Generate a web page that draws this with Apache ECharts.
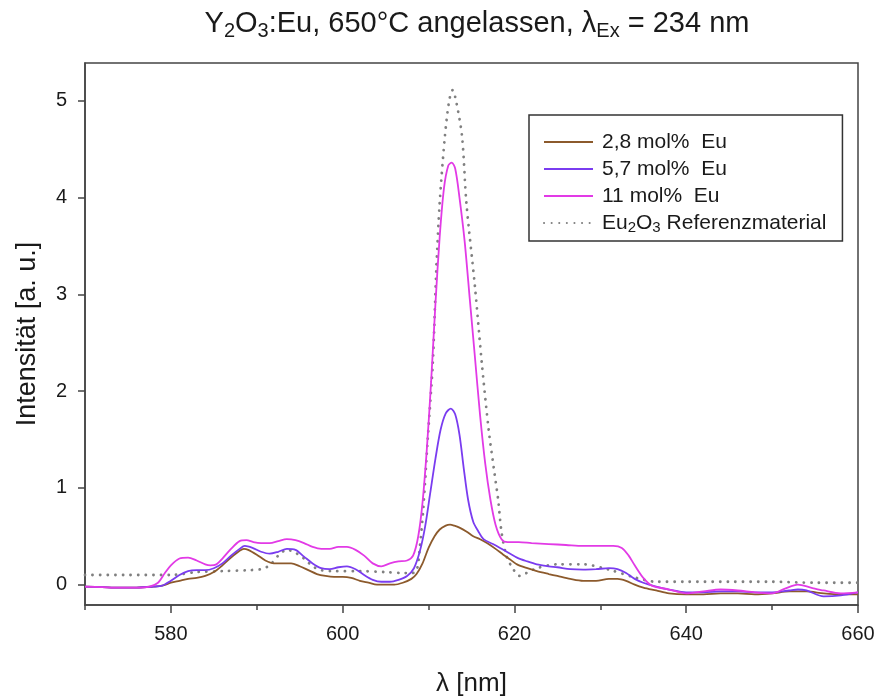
<!DOCTYPE html>
<html>
<head>
<meta charset="utf-8">
<script src="https://cdn.jsdelivr.net/npm/echarts@6/dist/echarts.min.js"></script>
<style>html,body{margin:0;padding:0;background:#fff;}#c{width:879px;height:699px;}</style>
</head>
<body>
<div id="c"></div>
<script>
// ---- data ----
const seriesNames = ['2,8 mol%  Eu', '5,7 mol%  Eu', '11 mol%  Eu', 'Eu{sub|2}O{sub|3} Referenzmaterial'];
const xTickLabels = [580, 600, 620, 640, 660];
const yTickLabels = [0, 1, 2, 3, 4, 5];

const wl28 = [570, 572, 574, 576, 578, 579, 580, 581, 582, 583, 584, 585, 586, 587, 588, 588.5, 589, 590, 591, 592, 593, 594, 595, 596, 597, 598, 599, 600, 601, 602, 603, 604, 605, 606, 607, 608, 608.6, 609.3, 610, 610.7, 611.3, 612, 612.5, 613, 613.6, 614.4, 615.2, 616, 616.8, 617.8, 618.7, 619.5, 620.3, 621.5, 622.6, 624, 625, 626.5, 628, 629.5, 631, 632, 633, 634, 635, 636.5, 638, 640, 642, 644, 646, 648, 650, 652, 654, 656, 658, 660];
const int28 = [-0.02, -0.025, -0.03, -0.03, -0.02, -0.01, 0.02, 0.04, 0.06, 0.07, 0.09, 0.13, 0.2, 0.28, 0.35, 0.37, 0.36, 0.31, 0.25, 0.22, 0.22, 0.22, 0.19, 0.15, 0.11, 0.09, 0.08, 0.08, 0.07, 0.04, 0.02, 0.0, 0.0, 0.0, 0.02, 0.06, 0.11, 0.22, 0.38, 0.5, 0.57, 0.61, 0.62, 0.61, 0.59, 0.55, 0.5, 0.47, 0.43, 0.37, 0.31, 0.26, 0.21, 0.17, 0.14, 0.11, 0.09, 0.06, 0.04, 0.04, 0.06, 0.06, 0.04, 0.0, -0.03, -0.06, -0.09, -0.1, -0.1, -0.09, -0.09, -0.1, -0.09, -0.07, -0.07, -0.09, -0.1, -0.1];

const wl57 = [570, 572, 574, 576, 578, 579, 580, 581, 582, 583, 584, 585, 586, 587, 588, 588.6, 589.5, 590.5, 591.5, 592.5, 593.5, 594.5, 595.5, 596.5, 597.5, 598.5, 599.5, 600.5, 601.5, 602.5, 603.5, 604.5, 605.5, 606.5, 607.5, 608.3, 609, 609.6, 610.2, 610.8, 611.4, 612, 612.6, 613.1, 613.6, 614.1, 614.6, 615.2, 615.8, 616.4, 617.5, 618.7, 620.3, 621.5, 622.6, 624, 625, 626.5, 628, 629.5, 631, 632, 633, 634, 635, 636.5, 638, 640, 642, 644, 646, 648, 650, 652, 653, 654, 656, 658, 660];
const int57 = [-0.02, -0.025, -0.03, -0.03, -0.02, -0.01, 0.04, 0.1, 0.14, 0.15, 0.15, 0.17, 0.22, 0.3, 0.37, 0.40, 0.38, 0.34, 0.32, 0.34, 0.37, 0.36, 0.29, 0.22, 0.17, 0.16, 0.18, 0.19, 0.16, 0.1, 0.05, 0.03, 0.03, 0.05, 0.09, 0.17, 0.35, 0.6, 0.95, 1.3, 1.6, 1.77, 1.82, 1.76, 1.55, 1.2, 0.88, 0.65, 0.55, 0.47, 0.42, 0.36, 0.28, 0.24, 0.21, 0.19, 0.18, 0.16, 0.155, 0.16, 0.17, 0.16, 0.12, 0.06, 0.02, -0.02, -0.05, -0.08, -0.08, -0.07, -0.07, -0.08, -0.08, -0.06, -0.05, -0.06, -0.12, -0.11, -0.08];

const wl11 = [570, 572, 574, 576, 577.5, 578.5, 579.3, 580, 581, 582, 583, 584, 584.6, 585.3, 586, 587, 588, 588.8, 589.6, 590.5, 591.5, 592.5, 593.5, 594.5, 595.5, 596.5, 597.5, 598.5, 599.5, 600.5, 601.5, 602.5, 603.5, 604.5, 605.5, 606.5, 607.5, 608.2, 608.8, 609.3, 609.8, 610.3, 610.8, 611.3, 611.8, 612.3, 612.7, 613.1, 613.6, 614.2, 614.8, 615.4, 616, 616.6, 617.2, 617.8, 618.5, 619.2, 620.5, 622, 624, 626, 628, 630, 631.5, 632.5, 633.3, 634, 635, 636, 638, 640, 642, 644, 646, 648, 650, 651.5, 653, 654.5, 656, 658, 660];
const int11 = [-0.02, -0.025, -0.03, -0.03, -0.02, 0.02, 0.12, 0.2, 0.27, 0.28, 0.25, 0.21, 0.2, 0.21, 0.27, 0.37, 0.45, 0.46, 0.44, 0.43, 0.43, 0.45, 0.47, 0.46, 0.43, 0.39, 0.37, 0.37, 0.39, 0.39, 0.36, 0.3, 0.22, 0.19, 0.22, 0.24, 0.25, 0.3, 0.5, 0.85, 1.4, 2.1, 2.9, 3.6, 4.1, 4.33, 4.36, 4.3, 4.0, 3.55, 2.95, 2.35, 1.75, 1.25, 0.88, 0.62, 0.47, 0.44, 0.44, 0.43, 0.42, 0.41, 0.4, 0.4, 0.4, 0.38, 0.3, 0.2, 0.07, -0.01, -0.05, -0.09, -0.07, -0.05, -0.06, -0.08, -0.09, -0.04, 0.0, -0.03, -0.06, -0.09, -0.08];

const wlRef = [570, 575, 580, 583, 586, 589, 590.5, 591.5, 592.5, 593.5, 594.5, 595.5, 596.5, 597.5, 599, 602, 605, 607, 608, 608.6, 609.0, 609.4, 609.9, 610.5, 610.9, 611.3, 611.9, 612.4, 612.8, 613.2, 613.9, 614.4, 615.4, 616.2, 617, 617.6, 618.1, 618.5, 619.1, 619.9, 620.6, 621.4, 622.6, 625, 628, 631, 634.2, 636.5, 640, 645, 650, 655, 660];
const intRef = [0.1, 0.1, 0.1, 0.13, 0.14, 0.15, 0.16, 0.2, 0.3, 0.36, 0.33, 0.27, 0.19, 0.15, 0.14, 0.14, 0.13, 0.12, 0.12, 0.14, 0.4, 0.8, 1.5, 2.3, 3.25, 3.95, 4.63, 5.0, 5.11, 5.0, 4.63, 3.95, 3.08, 2.29, 1.6, 1.2, 0.88, 0.54, 0.29, 0.155, 0.09, 0.12, 0.17, 0.21, 0.21, 0.155, 0.07, 0.03, 0.03, 0.03, 0.03, 0.02, 0.02];

const colors = ['#8c5a2c', '#7a3cf0', '#e23ae6', '#808080'];

// ---- chart ----
const pairs = (xs, ys) => xs.map((x, i) => [x, ys[i]]);
const chart = echarts.init(document.getElementById('c'), null, {renderer: 'canvas'});
const FONT = '"Liberation Sans", Arial, sans-serif';
const axisColor = '#444';
const textColor = '#1a1a1a';

function lineSeries(name, xs, ys, color, dotted) {
  return {
    name: name, type: 'line', xAxisIndex: 0, yAxisIndex: 0,
    data: pairs(xs, ys), showSymbol: false, symbol: 'none',
    smooth: 0.3,
    lineStyle: dotted ? {color: color, width: 2.8, type: [0.1, 7.5], cap: 'round'} : {color: color, width: 1.8},
    itemStyle: {color: color},
    z: dotted ? 1 : 2
  };
}

chart.setOption({
  backgroundColor: '#fff',
  animation: false,
  title: {
    text: 'Y{sub|2}O{sub|3}:Eu, 650°C angelassen, λ{sub|Ex} = 234 nm',
    left: 472, top: 2, textAlign: 'center',
    textStyle: {
      fontFamily: FONT, fontSize: 29, fontWeight: 'normal', color: textColor, lineHeight: 34,
      rich: {sub: {fontFamily: FONT, fontSize: 20, color: textColor, lineHeight: 20, verticalAlign: 'bottom'}}
    }
  },
  legend: {
    orient: 'vertical', left: 529, top: 115,
    data: seriesNames,
    borderColor: '#333', borderWidth: 1.5, borderRadius: 0,
    padding: [15, 16, 6, 14],
    itemWidth: 49, itemHeight: 14, itemGap: 3,
    itemStyle: {opacity: 0},
    textStyle: {
      fontFamily: FONT, fontSize: 21, color: textColor, padding: [0, 0, 0, 4], lineHeight: 24,
      rich: {sub: {fontFamily: FONT, fontSize: 15, color: textColor, lineHeight: 15, verticalAlign: 'bottom'}}
    }
  },
  grid: {left: 85, right: 21, top: 63, bottom: 94, show: true, borderColor: axisColor, borderWidth: 1.5,
         containLabel: false, outerBoundsMode: 'none'},
  xAxis: [{
    type: 'value', min: 570, max: 660, interval: 10,
    name: 'λ [nm]', nameLocation: 'middle', nameGap: 66,
    nameTextStyle: {fontFamily: FONT, fontSize: 26, color: textColor},
    axisLine: {show: true, onZero: false, lineStyle: {color: axisColor, width: 1.5}},
    axisTick: {show: true, length: 5, lineStyle: {color: axisColor, width: 1.5}},
    axisLabel: {
      fontFamily: FONT, fontSize: 20, color: textColor, margin: 19,
      customValues: xTickLabels
    },
    splitLine: {show: false}
  }, {
    type: 'value', min: 570, max: 660, interval: 10, position: 'bottom', gridIndex: 0,
    axisLine: {show: false, onZero: false},
    axisTick: {show: true, length: 8, customValues: xTickLabels, lineStyle: {color: axisColor, width: 1.5}},
    axisLabel: {show: false},
    splitLine: {show: false}
  }],
  yAxis: {
    type: 'value', min: -0.21, max: 5.39,
    name: 'Intensität [a. u.]', nameLocation: 'middle', nameGap: 44,
    nameTextStyle: {fontFamily: FONT, fontSize: 27, color: textColor},
    axisLine: {show: true, onZero: false, lineStyle: {color: axisColor, width: 1.5}},
    axisTick: {show: true, length: 7, customValues: yTickLabels, lineStyle: {color: axisColor, width: 1.5}},
    axisLabel: {fontFamily: FONT, fontSize: 20, color: textColor, margin: 18, customValues: yTickLabels},
    splitLine: {show: false}
  },
  series: [
    lineSeries(seriesNames[3], wlRef, intRef, colors[3], true),
    lineSeries(seriesNames[0], wl28, int28, colors[0], false),
    lineSeries(seriesNames[1], wl57, int57, colors[1], false),
    lineSeries(seriesNames[2], wl11, int11, colors[2], false)
  ]
});
</script>
</body>
</html>
